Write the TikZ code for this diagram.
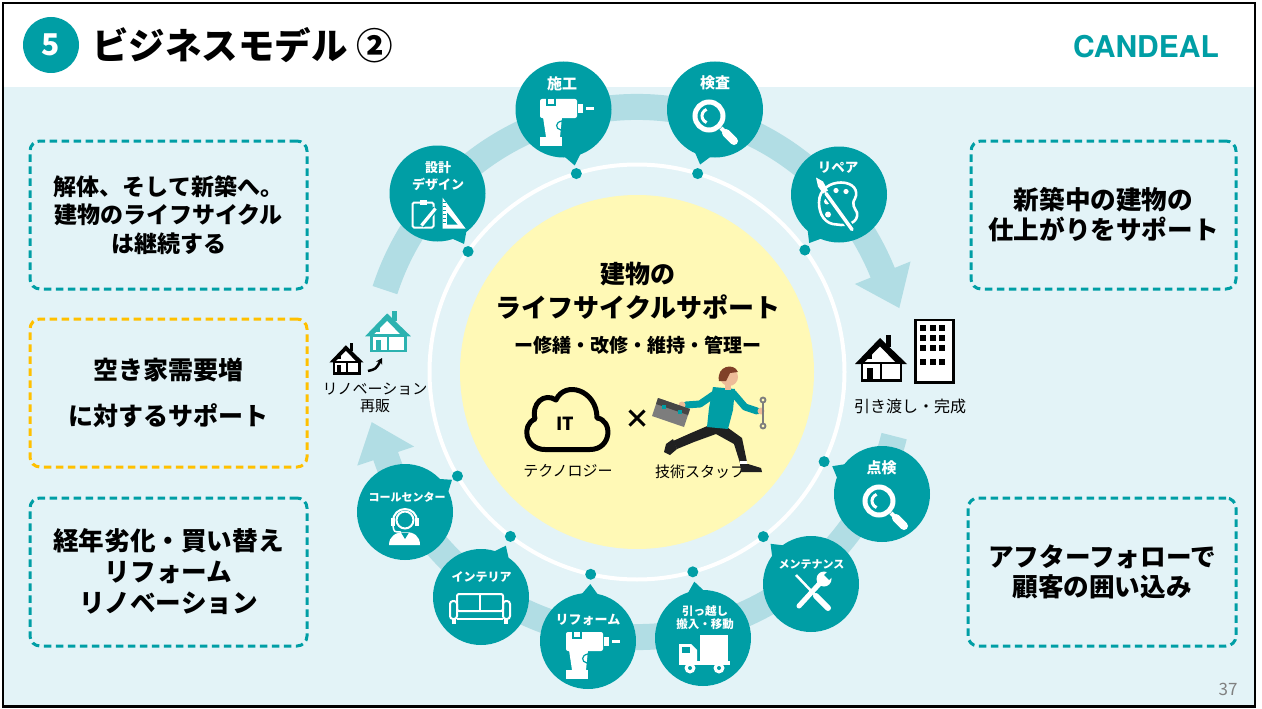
\documentclass[tikz,border=0pt]{standalone}
\usepackage{fontspec}
\setmainfont{Noto Sans CJK JP}
\newfontfamily\logofont{TeX Gyre Heros}
\usetikzlibrary{calc,arrows.meta}

\definecolor{brandteal}{RGB}{0,158,165}
\definecolor{bandblue}{RGB}{177,221,228}
\definecolor{paleblue}{RGB}{227,243,247}
\definecolor{paleyellow}{RGB}{255,249,182}
\definecolor{boxgold}{RGB}{255,192,0}
\definecolor{housegreen}{RGB}{44,178,176}
\definecolor{pagegrey}{RGB}{128,128,128}
\definecolor{skin}{RGB}{238,188,152}
\definecolor{hair}{RGB}{128,64,40}
\definecolor{pants}{RGB}{32,32,32}
\definecolor{boxgrey}{RGB}{125,125,125}
\definecolor{lidgrey}{RGB}{70,70,70}

% speech-bubble tail from a bubble towards its dot on the ring
\newcommand\bubbletail[2]{%
  \fill[brandteal] ($(#1)!44pt!-15:(#2)$) -- ($(#1)!57pt!(#2)$) -- ($(#1)!44pt!15:(#2)$) -- cycle;}

\tikzset{
  bubble/.style={circle, fill=brandteal, minimum size=96pt, inner sep=0pt},
  bubbletext/.style={text=white, inner sep=0pt, font=\bfseries\fontsize{#1pt}{#1pt}\selectfont},
  ringdot/.style={circle, fill=brandteal, minimum size=11pt, inner sep=0pt},
  notebox/.style={draw=#1, line width=3pt, dash pattern=on 7.5pt off 4.5pt,
    rounded corners=10pt, minimum height=148pt, inner sep=0pt, align=center},
  plain/.style={inner sep=0pt, align=center},
  % cordless drill, origin at top-left corner
  drillicon/.pic={
    \fill[white, rounded corners=2pt] (0,0) rectangle (37,19);
    \draw[brandteal, line width=1.2pt] (7,-0.5) rectangle (15,6);
    \fill[white] (38,5) rectangle (43,14);
    \fill[white] (46,8) rectangle (54,11);
    \fill[white] (3,18) -- (22,18) -- (20,38) -- (6,38) -- cycle;
    \draw[brandteal, line width=1.2pt] (22,22) .. controls (15,23) and (15,30) .. (21,31);
    \fill[white] (0,38) rectangle (22,47);
  },
  % magnifying glass, origin at lens centre
  lensicon/.pic={
    \draw[white, line width=5pt] (0,0) circle[radius=14pt];
    \draw[white, line width=3pt] (-2.4,-6.6) arc[start angle=110, end angle=250, radius=7pt];
    \draw[white, line width=4pt] (12,12) -- (17,17);
    \draw[white, line width=8pt, line cap=round] (17,17) -- (25,25);
  },
  % clipboard with pencil and set square
  designicon/.pic={
    \draw[white, line width=2pt, rounded corners=1.5pt] (-25,9) rectangle (-4,34);
    \fill[white] (-18,6) rectangle (-11,11);
    \draw[brandteal, line width=6pt] (-16,32) -- (-2,15);
    \draw[white, line width=3.2pt] (-16,32) -- (-2,15);
    \fill[white] (5,4) -- (5,35) -- (28,35) -- cycle;
    \fill[brandteal] (9.5,19) -- (9.5,31) -- (20,31) -- cycle;
    \foreach \yy in {9,13,17,21,25,29} \draw[brandteal, line width=0.8pt] (5,\yy) -- (8,\yy);
  },
  % palette with brush
  paletteicon/.pic={
    \draw[white, line width=2.6pt, line join=round] (-20,8) .. controls (-20,-6) and (-8,-12) .. (2,-12)
      .. controls (14,-12) and (20,-4) .. (16,4) .. controls (12,10) and (16,14) .. (18,18)
      .. controls (20,28) and (8,32) .. (-2,30) .. controls (-14,30) and (-20,20) .. (-20,8) -- cycle;
    \fill[white] (-12,7) circle[radius=3pt];
    \fill[white] (-3,-4) circle[radius=2.6pt];
    \fill[white] (7,-3) circle[radius=2.6pt];
    \fill[white] (-11,20) circle[radius=3pt];
    \draw[brandteal, line width=7pt] (-13,-1) -- (13,35);
    \draw[white, line width=3.5pt, line cap=round] (-13,-1) -- (13,35);
    \fill[white] (-23,-17) -- (-16,-13) -- (-11,-4) -- (-16,-1) -- (-21,-8) -- cycle;
  },
  % crossed wrench and screwdriver
  toolsicon/.pic={
    \draw[white, line width=5pt, line cap=round] (10,-2) -- (-12,22);
    \fill[white] (13,-5) circle[radius=7.5pt];
    \fill[brandteal] (13,-9) -- (17,-13) -- (22,-8) -- (18,-4) -- cycle;
    \draw[white, line width=2.5pt] (-15,-9) -- (4,11);
    \draw[brandteal, line width=9pt] (5,12) -- (17,24);
    \draw[white, line width=6pt, line cap=round] (5,12) -- (17,24);
  },
  % delivery truck
  truckicon/.pic={
    \fill[white] (-3,-3) rectangle (25,23);
    \fill[white] (-24,6) -- (-12,6) -- (-6,12) -- (-6,26) -- (-24,26) -- cycle;
    \fill[brandteal] (-21,9) rectangle (-13,15);
    \fill[white] (-24,23) rectangle (27,27);
    \fill[white] (-13,30) circle[radius=5.5pt];
    \fill[brandteal] (-13,30) circle[radius=2pt];
    \fill[white] (16,30) circle[radius=5.5pt];
    \fill[brandteal] (16,30) circle[radius=2pt];
  },
  % sofa
  sofaicon/.pic={
    \draw[white, line width=2pt, rounded corners=2pt] (-24,-3) rectangle (22,14);
    \draw[white, line width=2pt] (-1,-3) -- (-1,14);
    \draw[white, line width=2pt, rounded corners=3pt] (-31,4) rectangle (-24,22);
    \draw[white, line width=2pt, rounded corners=3pt] (22,4) rectangle (29,22);
    \draw[white, line width=2pt] (-24,22) -- (22,22);
    \fill[white] (-29,22) rectangle (-25,27);
    \fill[white] (23,22) rectangle (27,27);
  },
  % operator with headset
  agenticon/.pic={
    \draw[white, line width=2pt] (0,8) circle[radius=8.5pt];
    \draw[white, line width=2pt] (-12,9) arc[start angle=180, end angle=0, radius=12pt];
    \fill[white] (-14,6) rectangle (-10,14);
    \fill[white] (10,6) rectangle (14,14);
    \draw[white, line width=1.5pt] (-12,14) .. controls (-11,20) .. (-4,20);
    \fill[white] (-16,33) .. controls (-16,24) and (-9,20) .. (0,20) .. controls (9,20) and (15,24) .. (15,33) -- cycle;
    \fill[brandteal] (-4,20.5) -- (0,27) -- (4,20.5) -- cycle;
  },
  % house, origin at top-left, 50 x 49
  houseicon/.pic={
    \fill[#1] (30,2) rectangle (35,14);
    \fill[#1] (-1,31) -- (24,5) -- (51,31) -- cycle;
    \fill[white] (8,30) -- (24,13.5) -- (40,30) -- cycle;
    \draw[#1, fill=white, line width=2.5pt] (6,30) rectangle (45,47.5);
    \draw[#1, line width=2pt] (25,30) -- (25,47.5);
    \fill[#1] (11,35) rectangle (17,47.5);
    \fill[#1] (11,21) rectangle (16,26);
  }
}

\begin{document}
\begin{tikzpicture}[x=1pt,y=-1pt]
\useasboundingbox (0,0) rectangle (1262,709);
\fill[white] (0,0) rectangle (1262,709);
\fill[paleblue] (3,87) rectangle (1255,706);
\draw[black, line width=2.5pt] (3,3) rectangle (1255,706.5);

% header
\node[circle, fill=brandteal, minimum size=56pt, inner sep=0pt, text=white,
  font=\bfseries\fontsize{30pt}{30pt}\selectfont] (secnum) at (51,45) {5};
\node[anchor=west, plain, font=\bfseries\fontsize{36.5pt}{36.5pt}\selectfont] (title) at (92,45) {ビジネスモデル ②};
\node[plain, text=brandteal, font=\logofont\bfseries\fontsize{30pt}{30pt}\selectfont] (logo) at (1146,47) {CANDEAL};

% cycle band with arrowheads
\coordinate (hub) at (637,372);
\draw[bandblue, line width=26pt] ($(hub)+(-162:265)$) arc[start angle=162, end angle=21.5, radius=265pt];
\fill[bandblue] ($(hub)+(-22:295)$) -- ($(hub)+(-13.7:270)$) -- ($(hub)+(-22:235)$) -- cycle;
\draw[bandblue, line width=26pt] ($(hub)+(14:265)$) arc[start angle=-14, end angle=-162, radius=265pt];
\fill[bandblue] ($(hub)+(161.5:295)$) -- ($(hub)+(169.3:270)$) -- ($(hub)+(161.5:235)$) -- cycle;

% ring and centre disc
\draw[white, line width=4pt] (hub) circle[radius=207.5pt];
\fill[paleyellow] (hub) circle[radius=177pt];

% dots on the ring
\node[ringdot] (dotDesign) at ($(hub)+(-144.5:207.5)$) {};
\node[ringdot] (dotBuild)  at ($(hub)+(-107:207.5)$) {};
\node[ringdot] (dotInspect) at ($(hub)+(-73:207.5)$) {};
\node[ringdot] (dotRepair) at ($(hub)+(-36:207.5)$) {};
\node[ringdot] (dotCheck)  at ($(hub)+(25.6:207.5)$) {};
\node[ringdot] (dotMaint)  at ($(hub)+(52.5:207.5)$) {};
\node[ringdot] (dotMove)   at ($(hub)+(74.4:207.5)$) {};
\node[ringdot] (dotReform) at ($(hub)+(102.9:207.5)$) {};
\node[ringdot] (dotInterior) at ($(hub)+(127.6:207.5)$) {};
\node[ringdot] (dotCall)   at ($(hub)+(149.9:207.5)$) {};

% bubbles
\node[bubble] (bubDesign) at (437.5,193.5) {};
\bubbletail{bubDesign}{dotDesign}
\node[bubbletext=13] (lblDesignA) at (438,168) {設計};
\node[bubbletext=13] (lblDesignB) at (438,184) {デザイン};
\pic at (437.5,193.5) {designicon};

\node[bubble] (bubBuild) at (563.5,109.5) {};
\bubbletail{bubBuild}{dotBuild}
\node[bubbletext=15] (lblBuild) at (562,84) {施工};
\pic at (540,99) {drillicon};

\node[bubble] (bubInspect) at (715,109.5) {};
\bubbletail{bubInspect}{dotInspect}
\node[bubbletext=15] (lblInspect) at (715,83) {検査};
\pic at (709,116) {lensicon};

\node[bubble] (bubRepair) at (839,194.5) {};
\bubbletail{bubRepair}{dotRepair}
\node[bubbletext=13.5] (lblRepair) at (838,168) {リペア};
\pic at (839,194.5) {paletteicon};

\node[bubble] (bubCheck) at (882,494) {};
\bubbletail{bubCheck}{dotCheck}
\node[bubbletext=15] (lblCheck) at (881.5,468) {点検};
\pic at (879,501) {lensicon};

\node[bubble] (bubMaint) at (811,584) {};
\bubbletail{bubMaint}{dotMaint}
\node[bubbletext=11] (lblMaint) at (811.5,564) {メンテナンス};
\pic at (811,584) {toolsicon};

\node[bubble] (bubMove) at (703,638) {};
\bubbletail{bubMove}{dotMove}
\node[bubbletext=11.5] (lblMoveA) at (705,611) {引っ越し};
\node[bubbletext=11.5] (lblMoveB) at (705,624) {搬入・移動};
\pic at (703,638) {truckicon};

\node[bubble] (bubReform) at (588,641) {};
\bubbletail{bubReform}{dotReform}
\node[bubbletext=13] (lblReform) at (588,620) {リフォーム};
\pic at (566,632) {drillicon};

\node[bubble] (bubInterior) at (481,597) {};
\bubbletail{bubInterior}{dotInterior}
\node[bubbletext=12] (lblInterior) at (481.5,577) {インテリア};
\pic at (481,597) {sofaicon};

\node[bubble] (bubCall) at (405,512) {};
\bubbletail{bubCall}{dotCall}
\node[bubbletext=11] (lblCall) at (407,497) {コールセンター};
\pic at (405,512) {agenticon};

% centre message
\node[plain, font=\bfseries\fontsize{25pt}{25pt}\selectfont] (ctrA) at (638,274) {建物の};
\node[plain, font=\bfseries\fontsize{26pt}{26pt}\selectfont] (ctrB) at (638,307) {ライフサイクルサポート};
\node[plain, font=\bfseries\fontsize{19pt}{19pt}\selectfont] (ctrC) at (638,345) {ー修繕・改修・維持・管理ー};

% IT cloud
\draw[black, line width=5pt, line join=round] (545,449.5) -- (590,449.5)
  .. controls (612,449.5) and (613,420) .. (597,418)
  .. controls (597,390) and (565,380) .. (556,400)
  .. controls (544,392) and (531,404) .. (535,419)
  .. controls (521,425) and (525,449.5) .. (545,449.5) -- cycle;
\node[plain, font=\bfseries\fontsize{18pt}{18pt}\selectfont] (itmark) at (565,424) {IT};
\node[plain, font=\bfseries\fontsize{26pt}{26pt}\selectfont] (times) at (637,419) {×};
\node[plain, font=\fontsize{15pt}{15pt}\selectfont] (techlbl) at (568,471) {テクノロジー};
\node[plain, font=\fontsize{15pt}{15pt}\selectfont] (stafflbl) at (700,472) {技術スタッフ};

% running technician
\fill[pants] (712,424) -- (724,425) -- (742,438) -- (747,462) -- (740,463) -- (734,444) -- (716,434) -- (694,442) -- (677,449) -- (673,441) -- (691,433) -- cycle;
\fill[white] (740,461) rectangle (747,465);
\fill[pants] (740,464) -- (748,464) -- (761,468) -- (762,472) -- (741,472) -- cycle;
\fill[pants] (673,439) -- (677,449) -- (670,455) -- (664,452) -- (666,444) -- cycle;
\draw[brandteal, line width=7pt, line cap=round, line join=round] (716,393) -- (700,404) -- (686,405);
\fill[skin] (682,405) circle[radius=3.5pt];
\fill[boxgrey] (658,398) -- (690,409) -- (684,427) -- (652,416) -- cycle;
\fill[lidgrey] (658,398) -- (690,409) -- (688,415) -- (656,404) -- cycle;
\fill[brandteal] (662,405) rectangle (666,409);
\fill[brandteal] (678,410) rectangle (682,414);
\fill[brandteal] (713,387) -- (735,389) -- (733,410) -- (728,429) -- (707,427) -- (709,408) -- cycle;
\draw[brandteal, line width=7pt, line cap=round, line join=round] (733,393) -- (745,407) -- (757,411);
\fill[skin] (761,411) circle[radius=3.5pt];
\draw[boxgrey, line width=2.5pt] (763,402) -- (763,424);
\draw[boxgrey, line width=1.8pt] (763,400) circle[radius=2.5pt];
\draw[boxgrey, line width=1.8pt] (763,426) circle[radius=2.5pt];
\fill[skin] (725,384) rectangle (731,390);
\fill[skin] (729,377) circle[radius=9pt];
\fill[hair] (719,381) .. controls (716,366) and (734,362) .. (738,372) -- (730,373) -- (726,381) -- cycle;

% handover: house and building
\pic at (856,333) {houseicon=black};
\draw[black, line width=2.5pt, fill=white] (915.5,320) rectangle (953.5,382.5);
\foreach \cx in {920,929.5,939} \foreach \cy in {325,335,345,359}
  \fill[black] (\cx,\cy) rectangle ++(6,6);
\node[plain, font=\fontsize{16pt}{16pt}\selectfont] (handover) at (910,406) {引き渡し・完成};

% renovation and resale
\pic[scale=0.66] at (330,342) {houseicon=black};
\pic[scale=0.88] at (366,309) {houseicon=housegreen};
\draw[black, line width=2.5pt, -{Stealth[length=6pt,width=7pt]}] (368,371) .. controls (376,369) .. (382,358);
\node[plain, font=\fontsize{15pt}{15pt}\selectfont] (renoA) at (375,389) {リノベーション};
\node[plain, font=\fontsize{15pt}{15pt}\selectfont] (renoB) at (375,406) {再販};

% side notes
\node[notebox=brandteal, minimum width=277pt, font=\bfseries\fontsize{23pt}{28.5pt}\selectfont] (noteRebuild) at (168.5,215)
  {解体、そして新築へ。\\建物のライフサイクル\\は継続する};
\node[notebox=boxgold, minimum width=277pt, font=\bfseries\fontsize{25pt}{46.5pt}\selectfont] (noteVacant) at (168.5,393)
  {空き家需要増\\に対するサポート};
\node[notebox=brandteal, minimum width=277pt, font=\bfseries\fontsize{25.6pt}{31pt}\selectfont] (noteAging) at (168.5,572)
  {経年劣化・買い替え\\リフォーム\\リノベーション};
\node[notebox=brandteal, minimum width=265pt, font=\bfseries\fontsize{25.6pt}{30pt}\selectfont] (noteFinish) at (1103.5,215)
  {新築中の建物の\\仕上がりをサポート};
\node[notebox=brandteal, minimum width=268pt, font=\bfseries\fontsize{25.6pt}{30pt}\selectfont] (noteAfter) at (1102,572)
  {アフターフォローで\\顧客の囲い込み};

% page number
\node[plain, text=pagegrey, font=\fontsize{17pt}{17pt}\selectfont] (pagenum) at (1228,689) {37};
\end{tikzpicture}
\end{document}
